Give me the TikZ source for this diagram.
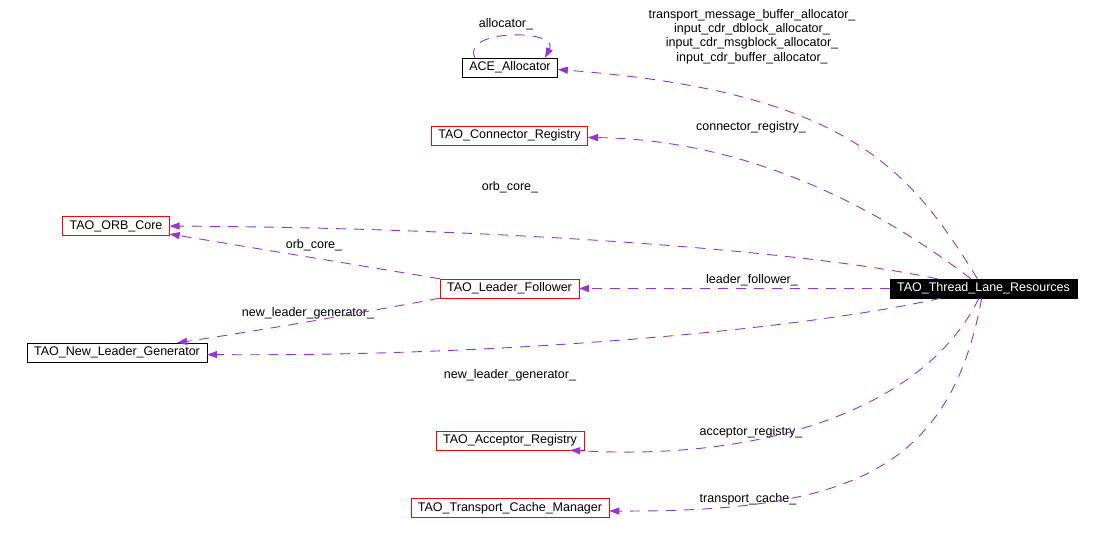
\documentclass[tikz,border=0pt]{standalone}
\usepackage{fontspec}
\setmainfont{Liberation Sans}
\usetikzlibrary{arrows.meta}
\definecolor{edgepurple}{HTML}{9A32CD}

\begin{document}
\begin{tikzpicture}[x=1pt, y=-1pt]
  \tikzstyle{cls} = [draw, rectangle, minimum height=19pt, inner xsep=7pt, inner ysep=0pt, font=\fontsize{12.5}{14.4}\selectfont]
  \tikzstyle{hot} = [cls, draw=red]
  \tikzstyle{lbl} = [inner sep=0pt, align=center, font=\fontsize{12.5}{14.4}\selectfont]
  \tikzstyle{rel} = [edgepurple, line width=0.9pt, dash pattern=on 10pt off 8pt, -{Triangle[length=10pt, width=7pt]}]
  \useasboundingbox (0,0) rectangle (1102,535);

  \node[cls] (ace) at (510,67.5) {ACE\_Allocator};
  \node[hot] (connreg) at (509.5,135.5) {TAO\_Connector\_Registry};
  \node[hot] (orbcore) at (116,226) {TAO\_ORB\_Core};
  \node[hot] (leadfol) at (509.5,288.5) {TAO\_Leader\_Follower};
  \node[cls] (newgen) at (117,352.5) {TAO\_New\_Leader\_Generator};
  \node[hot] (accreg) at (510,440.5) {TAO\_Acceptor\_Registry};
  \node[hot] (cachemgr) at (510,508) {TAO\_Transport\_Cache\_Manager};
  \node[cls, fill=black, text=white] (lane) at (983.5,288.5) {TAO\_Thread\_Lane\_Resources};

  % edge labels
  \node[lbl] (lalloc) at (506,24) {allocator\_};
  \node[lbl] (lbufs) at (752,36.5) {transport\_message\_buffer\_allocator\_\\input\_cdr\_dblock\_allocator\_\\input\_cdr\_msgblock\_allocator\_\\input\_cdr\_buffer\_allocator\_};
  \node[lbl] (lconn) at (751,127) {connector\_registry\_};
  \node[lbl] (lorb) at (510,187) {orb\_core\_};
  \node[lbl] (lorbf) at (314,245) {orb\_core\_};
  \node[lbl] (lfol) at (752,280) {leader\_follower\_};
  \node[lbl] (lgenf) at (308,313) {new\_leader\_generator\_};
  \node[lbl] (lgen) at (510,375) {new\_leader\_generator\_};
  \node[lbl] (lacc) at (751,432) {acceptor\_registry\_};
  \node[lbl] (lcache) at (748,499) {transport\_cache\_};

  % relations
  \draw[rel] ([xshift=-35pt]ace.north) .. controls +(-15,-29) and +(15,-29) .. ([xshift=35pt]ace.north);
  \draw[rel] (lane) .. controls (910,170) and (850,92) .. ([yshift=-2pt]ace.east);
  \draw[rel] (lane) .. controls (920,240) and (780,140) .. ([yshift=-2pt]connreg.east);
  \draw[rel] (lane) .. controls (800,250) and (500,228) .. (orbcore.east);
  \draw[rel] (lane) -- (leadfol);
  \draw[rel] (leadfol.north west) -- ([yshift=-8pt]orbcore.east);
  \draw[rel] (leadfol.south west) .. controls (350,315) and (250,332) .. ([xshift=-30pt]newgen.north east);
  \draw[rel] (lane) .. controls (800,330) and (500,357) .. ([yshift=-2pt]newgen.east);
  \draw[rel] (lane) .. controls (930,400) and (780,462) .. ([xshift=-14pt]accreg.south east);
  \draw[rel] (lane) .. controls (950,470) and (850,512) .. ([yshift=-3pt]cachemgr.east);
\end{tikzpicture}
\end{document}
